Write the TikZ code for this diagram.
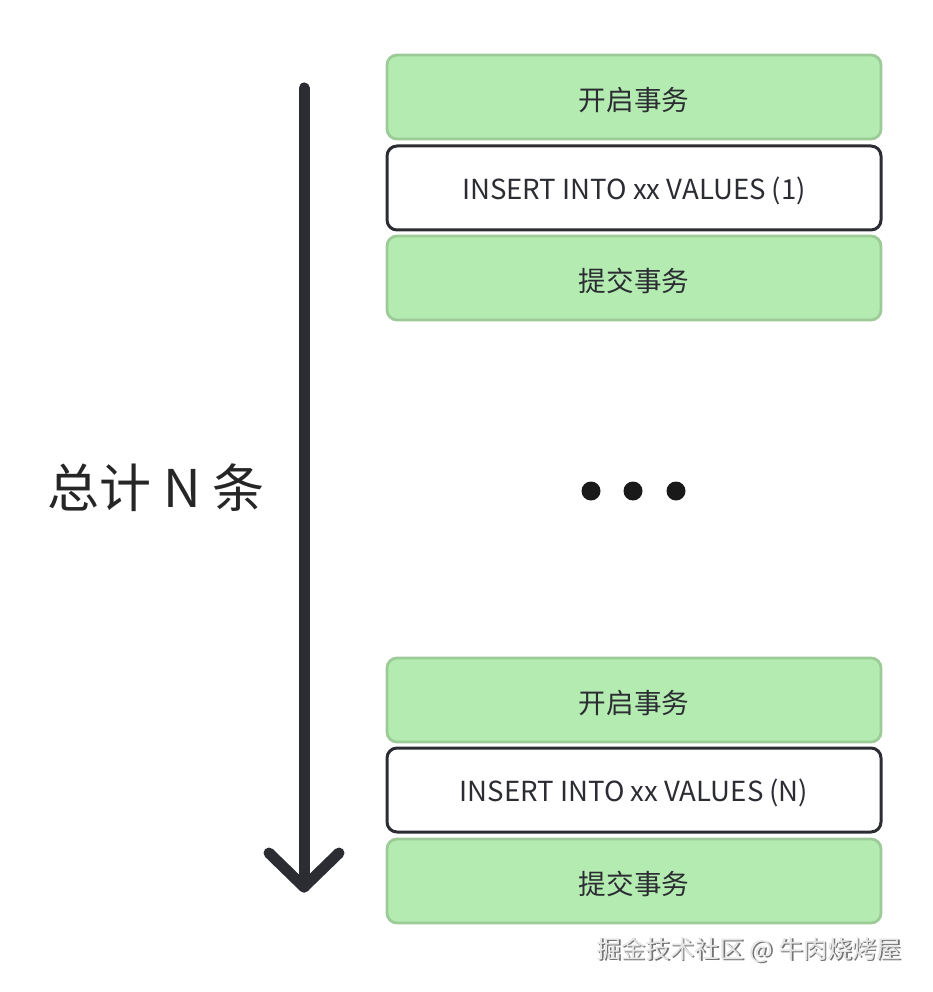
\documentclass[tikz,border=0pt]{standalone}
\usepackage{fontspec}
\setmainfont{Noto Sans CJK SC}
\usetikzlibrary{arrows.meta}
\definecolor{gfill}{HTML}{B4EBB1}
\definecolor{gdraw}{HTML}{9CCB97}
\definecolor{dk}{HTML}{2B2D33}
\tikzset{
  gbox/.style={draw=gdraw, fill=gfill, line width=2.8pt, rounded corners=10pt,
    minimum width=494pt, minimum height=84pt, inner sep=0pt, font=\fontsize{27.6}{32}\selectfont, text=dk,
    text depth=0pt, text height=0pt},
  wbox/.style={draw=dk, fill=white, line width=3pt, rounded corners=10pt,
    minimum width=494pt, minimum height=84pt, inner sep=0pt, font=\fontsize{27.6}{32}\selectfont, text=dk},
  boxtxt/.style={font=\fontsize{27.6}{32}\selectfont, text=dk, inner sep=0pt},
  dotn/.style={circle, fill=black!90, minimum size=19pt, inner sep=0pt},
}
\begin{document}
\begin{tikzpicture}[x=1pt,y=-1pt]
\useasboundingbox (0,0) rectangle (932,992);
\node[gbox] (b1) at (634,97) {};
\node[wbox] (b2) at (634,188) {};
\node[gbox] (b3) at (634,278) {};
\node[gbox] (b4) at (634,700) {};
\node[wbox] (b5) at (634,790) {};
\node[gbox] (b6) at (634,881) {};
\node[boxtxt] (t1) at ([yshift=-3pt]b1.center) {开启事务};
\node[boxtxt] (t2) at ([yshift=-3pt]b2.center) {INSERT INTO xx VALUES (1)};
\node[boxtxt] (t3) at ([yshift=-3pt]b3.center) {提交事务};
\node[boxtxt] (t4) at ([yshift=-3pt]b4.center) {开启事务};
\node[boxtxt] (t5) at ([yshift=-3pt]b5.center) {INSERT INTO xx VALUES (N)};
\node[boxtxt] (t6) at ([yshift=-3pt]b6.center) {提交事务};
\node[dotn] (d1) at (591,491) {};
\node[dotn] (d2) at (633,491) {};
\node[dotn] (d3) at (676,491) {};
\coordinate (as) at (304,88);
\coordinate (ae) at (304,887);
\draw[dk, line width=11pt, line cap=round] (as) -- (ae);
\coordinate (al) at (269,853);
\coordinate (ar) at (339,853);
\draw[dk, line width=11pt, line cap=round, line join=round] (al) -- (ae) -- (ar);
\node[font=\fontsize{52}{58}\selectfont, text=black!85, anchor=west] (lbl) at (44,488) {总计 N 条};
\node[font=\fontsize{24.6}{28}\selectfont, text=black!55, anchor=east] (wm2) at (906.6,951.6) {掘金技术社区 @ 牛肉烧烤屋};
\node[font=\fontsize{24.6}{28}\selectfont, text=black!10, anchor=east] (wm) at (905,950) {掘金技术社区 @ 牛肉烧烤屋};
\end{tikzpicture}
\end{document}
